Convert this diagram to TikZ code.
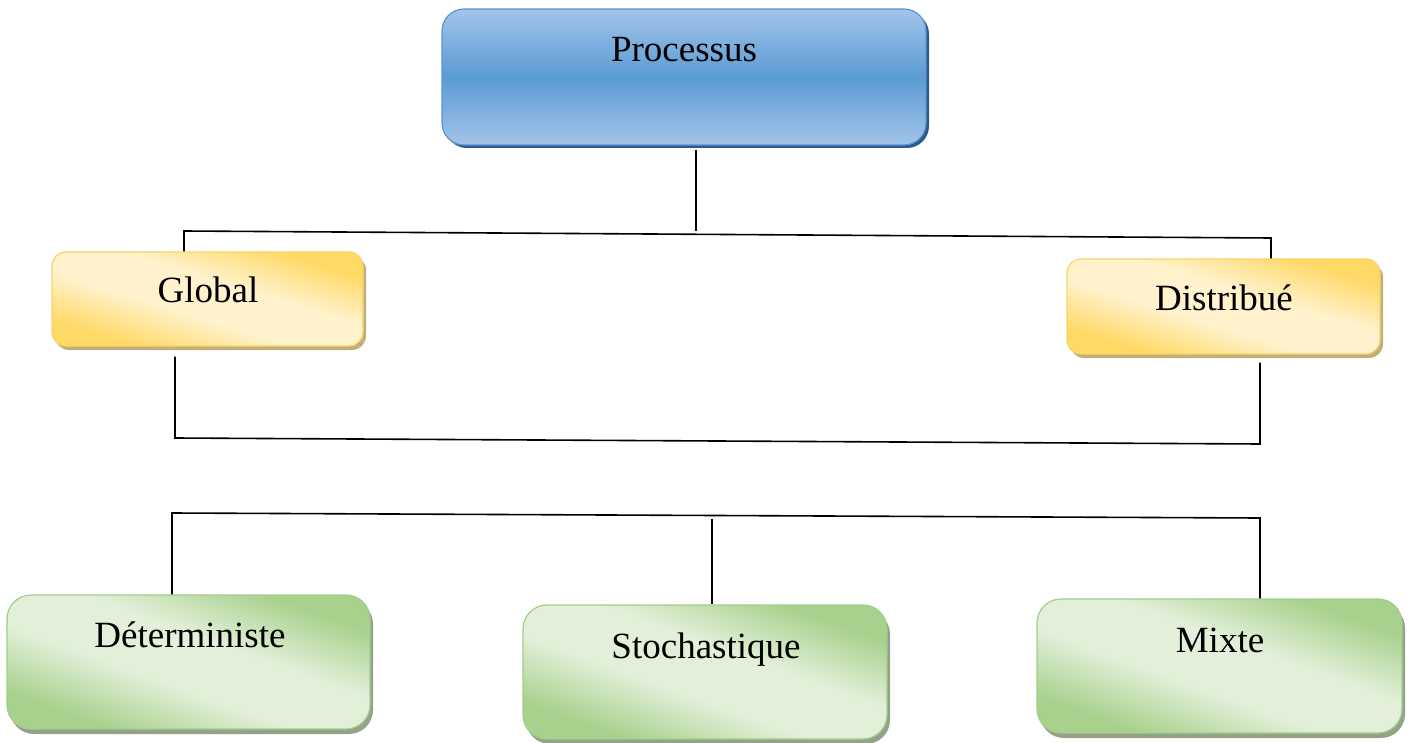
\documentclass[tikz,border=0pt]{standalone}
\usepackage{fontspec}
\setmainfont{Liberation Serif}
\usetikzlibrary{shadows}
\definecolor{blight}{HTML}{A2C4E8}
\definecolor{bmid}{HTML}{5B9BD5}
\definecolor{bborder}{HTML}{5A96D0}
\definecolor{bshadow}{HTML}{2E5A88}
\definecolor{ydark}{HTML}{FFD966}
\definecolor{ylight}{HTML}{FFF2CC}
\definecolor{yborder}{HTML}{F8D468}
\definecolor{yshadow}{HTML}{C2AE7A}
\definecolor{gdark}{HTML}{A9D18E}
\definecolor{glight}{HTML}{E2F0D9}
\definecolor{gborder}{HTML}{A4CC8A}
\definecolor{gshadow}{HTML}{93A38A}
\pgfdeclareverticalshading{yshade}{100bp}{color(0bp)=(ydark); color(27bp)=(ydark); color(43bp)=(ylight); color(57bp)=(ylight); color(73bp)=(ydark); color(100bp)=(ydark)}
\pgfdeclareverticalshading{gshade}{100bp}{color(0bp)=(gdark); color(27bp)=(gdark); color(43bp)=(glight); color(57bp)=(glight); color(73bp)=(gdark); color(100bp)=(gdark)}
\tikzset{
  box/.style={rectangle, inner sep=0pt, line width=1.2pt},
  bluebox/.style={box, draw=bborder, rounded corners=22pt, top color=blight, bottom color=blight, middle color=bmid,
    general shadow={fill=bshadow, shadow xshift=3pt, shadow yshift=-3pt}},
  yellowbox/.style={box, draw=yborder, rounded corners=14pt, shading=yshade, shading angle=-17,
    general shadow={fill=yshadow, shadow xshift=3pt, shadow yshift=-4pt}},
  greenbox/.style={box, draw=gborder, rounded corners=24pt, shading=gshade, shading angle=-20,
    general shadow={fill=gshadow, shadow xshift=3pt, shadow yshift=-5pt}},
  lbl/.style={anchor=base, inner sep=0pt, font=\fontsize{37}{44}\selectfont},
  conn/.style={draw=black, line width=1.6pt}
}
\begin{document}
\begin{tikzpicture}[x=1pt,y=-1pt]
\useasboundingbox (0,0) rectangle (1410,743);
% boxes
\node[bluebox, minimum width=484pt, minimum height=136pt] (p) at (684,77) {};
\node[yellowbox, minimum width=311pt, minimum height=94pt] (g) at (207.5,299) {};
\node[yellowbox, minimum width=313pt, minimum height=95pt] (d) at (1223.5,306.5) {};
\node[greenbox, minimum width=363pt, minimum height=134pt] (det) at (188.5,662) {};
\node[greenbox, minimum width=364pt, minimum height=134pt] (sto) at (705,672) {};
\node[greenbox, minimum width=365pt, minimum height=134pt] (mix) at (1219.5,666) {};
% labels
\node[lbl] (pt) at (684,62) {Processus};
\node[lbl] (gt) at (208,302) {Global};
\node[lbl] (dt) at (1224,310) {Distribué};
\node[lbl] (dett) at (190,647) {Déterministe};
\node[lbl] (stot) at (706,658) {Stochastique};
\node[lbl] (mixt) at (1220,652) {Mixte};
% junction points
\coordinate (a1) at (696,231);
\coordinate (b1) at (184,231);
\coordinate (b2) at (1271,238);
\coordinate (c1) at (175,438);
\coordinate (c2) at (1260,444);
\coordinate (e1) at (172,513);
\coordinate (e2) at (1260,518);
\coordinate (e3) at (712,519);
% connectors
\draw[conn] ([yshift=-4pt]p.south -| a1) -- (a1);
\draw[conn] (g.north -| b1) -- (b1) -- (b2) -- (d.north -| b2);
\draw[conn] ([yshift=-10pt]g.south -| c1) -- (c1) -- (c2) -- ([yshift=-8pt]d.south -| c2);
\draw[conn] (det.north -| e1) -- (e1) -- (e2) -- (mix.north -| e2);
\draw[conn] (e3) -- (sto.north -| e3);
\end{tikzpicture}
\end{document}
